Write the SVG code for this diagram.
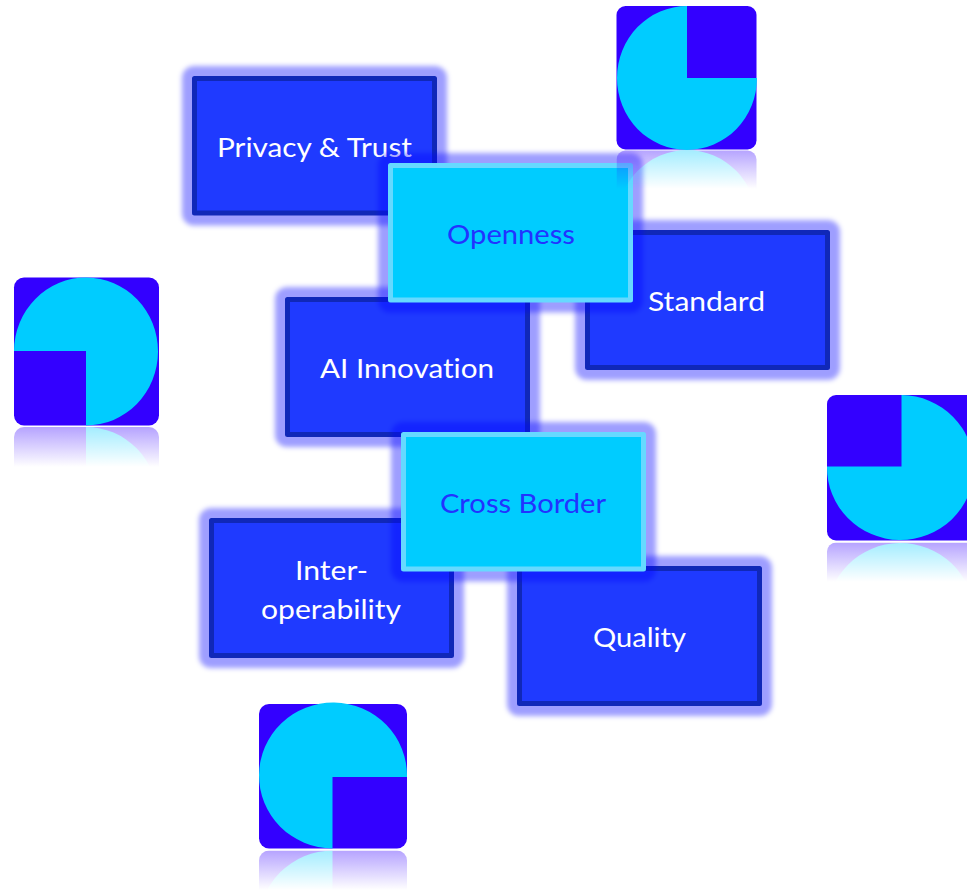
<svg xmlns="http://www.w3.org/2000/svg" width="967" height="891" viewBox="0 0 967 891">
<style>
.box{stroke-width:5;stroke-linejoin:round}
.dark{fill:#1f3aff;stroke:#1028b8}
.light{fill:#00ccff;stroke:#66d9ff}
.halo{fill:#0000ff;fill-opacity:.38;filter:url(#soft)}
text{font-family:Lato,"Open Sans","Liberation Sans",sans-serif;font-size:27.5px;text-anchor:start;font-variant-ligatures:none}
.w{fill:#fff}
.b{fill:#2233ff}
.sq{fill:#3300ff}
.pie{fill:#00ccff}
</style>
<defs>
<filter id="soft" x="-10%" y="-15%" width="120%" height="130%"><feGaussianBlur stdDeviation="2.8"/></filter>
<linearGradient id="fadeGrad" x1="0" y1="0" x2="0" y2="1">
<stop offset="0.73" stop-color="#000"/>
<stop offset="1" stop-color="#5c5c5c"/>
</linearGradient>
<mask id="fade" maskContentUnits="objectBoundingBox">
<rect x="0" y="0" width="1" height="1" fill="url(#fadeGrad)"/>
</mask>
<g id="art-top"><rect class="sq" x="616.5" y="6" width="140" height="143.5" rx="9"/><path class="pie" d="M687,78L687,6A70,72 0 1 0 757,78Z"/></g>
<g id="art-left"><rect class="sq" x="14" y="277.5" width="145" height="148" rx="10"/><path class="pie" d="M86,351L14,351A72,74 0 1 1 86,425.5Z"/></g>
<g id="art-right"><rect class="sq" x="827" y="395" width="148" height="145.5" rx="9"/><path class="pie" d="M901.5,466.5L901.5,395A73.5,72.5 0 1 1 827,466.5Z"/></g>
<g id="art-bottom"><rect class="sq" x="259" y="704" width="148" height="144.5" rx="10"/><path class="pie" d="M332.5,777L407,777A74,73 0 1 0 332.5,848.5Z"/></g>
</defs>
<rect width="967" height="891" fill="#fff"/>
<g id="node-privacy"><rect class="halo" x="182" y="66" width="265" height="159.5" rx="12"/><rect class="box dark" x="194.5" y="78.5" width="240" height="134.5"/><text class="w" x="217" y="157" textLength="195" lengthAdjust="spacingAndGlyphs">Privacy &amp; Trust</text></g>
<g id="node-standard"><rect class="halo" x="575" y="220" width="265" height="160" rx="12"/><rect class="box dark" x="587.5" y="232.5" width="240" height="135"/><text class="w" x="648" y="311" textLength="117" lengthAdjust="spacingAndGlyphs">Standard</text></g>
<g id="node-ai"><rect class="halo" x="275" y="287" width="265" height="160" rx="12"/><rect class="box dark" x="287.5" y="299.5" width="240" height="135"/><text class="w" x="320" y="378" textLength="174" lengthAdjust="spacingAndGlyphs">AI Innovation</text></g>
<g id="node-openness"><rect class="halo" x="378" y="153" width="265" height="159.5" rx="12"/><rect class="box light" x="390.5" y="165.5" width="240" height="134.5"/><text class="b" x="447" y="244" textLength="128" lengthAdjust="spacingAndGlyphs">Openness</text></g>
<g id="node-interoperability"><rect class="halo" x="199" y="508" width="265" height="160" rx="12"/><rect class="box dark" x="211.5" y="520.5" width="240" height="135"/><text class="w" x="295" y="580" textLength="73" lengthAdjust="spacingAndGlyphs">Inter-</text><text class="w" x="261" y="619" textLength="140" lengthAdjust="spacingAndGlyphs">operability</text></g>
<g id="node-quality"><rect class="halo" x="507" y="556" width="265" height="160" rx="12"/><rect class="box dark" x="519.5" y="568.5" width="240" height="135"/><text class="w" x="593" y="647" textLength="93" lengthAdjust="spacingAndGlyphs">Quality</text></g>
<g id="node-cross-border"><rect class="halo" x="391" y="422" width="265" height="159.5" rx="12"/><rect class="box light" x="403.5" y="434.5" width="240" height="134.5"/><text class="b" x="440" y="513" textLength="166" lengthAdjust="spacingAndGlyphs">Cross Border</text></g>
<g id="tile-top"><use href="#art-top"/><g transform="translate(0,300) scale(1,-1)" mask="url(#fade)"><use href="#art-top"/></g></g>
<g id="tile-left"><use href="#art-left"/><g transform="translate(0,852.5) scale(1,-1)" mask="url(#fade)"><use href="#art-left"/></g></g>
<g id="tile-right"><use href="#art-right"/><g transform="translate(0,1083) scale(1,-1)" mask="url(#fade)"><use href="#art-right"/></g></g>
<g id="tile-bottom"><use href="#art-bottom"/><g transform="translate(0,1699) scale(1,-1)" mask="url(#fade)"><use href="#art-bottom"/></g></g>
</svg>
